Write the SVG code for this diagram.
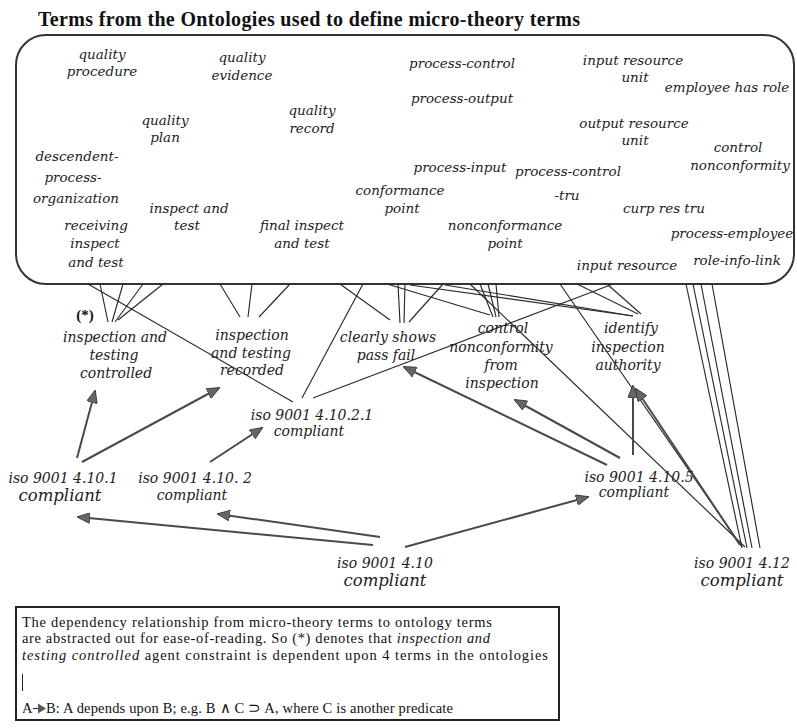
<svg xmlns="http://www.w3.org/2000/svg" width="797" height="728" viewBox="0 0 797 728">
  <style>
    .title { font-family: "Liberation Serif", "Times New Roman", serif; font-weight: bold; font-size: 20px; fill: #111; }
    .term { font-family: "DejaVu Serif", serif; font-style: italic; font-size: 13.5px; fill: #222; text-anchor: middle; }
    .node { font-family: "DejaVu Serif", serif; font-style: italic; font-size: 14px; fill: #222; text-anchor: middle; }
    .big { font-size: 16.5px; }
    .star { font-family: "Liberation Serif", serif; font-weight: bold; font-size: 15px; fill: #111; text-anchor: middle; }
    .legend { font-family: "Liberation Serif", "Times New Roman", serif; font-size: 14.5px; fill: #111; }
    .legend .it { font-style: italic; }
    .frame { fill: #fff; stroke: #333; stroke-width: 2; }
    .dep { stroke: #2a2a2a; stroke-width: 1.15; fill: none; }
    .arr { stroke: #4a4a4a; stroke-width: 2; fill: none; marker-end: url(#head); }
  </style>
  <defs>
    <marker id="head" markerUnits="userSpaceOnUse" markerWidth="13" markerHeight="11" refX="12" refY="5.5" orient="auto">
      <path d="M0,0 L13,5.5 L0,11 z" fill="#666" stroke="#333" stroke-width="0.8"/>
    </marker>
  </defs>

  <rect width="797" height="728" fill="#fff"/>

  <text class="title" x="38" y="26" textLength="542" lengthAdjust="spacing">Terms from the Ontologies used to define micro-theory terms</text>

  <!-- ontology terms -->
  <g id="ontology-box">
    <rect class="frame" x="16" y="35" width="778" height="249" rx="30" ry="30"/>
    <g id="t-quality-procedure"><text class="term" x="102" y="59">quality</text><text class="term" x="102" y="76">procedure</text></g>
    <g id="t-quality-evidence"><text class="term" x="242" y="62">quality</text><text class="term" x="242" y="80">evidence</text></g>
    <g id="t-quality-plan"><text class="term" x="165" y="125">quality</text><text class="term" x="165" y="142">plan</text></g>
    <g id="t-quality-record"><text class="term" x="312" y="115">quality</text><text class="term" x="312" y="133">record</text></g>
    <g id="t-process-control"><text class="term" x="462" y="68">process-control</text></g>
    <g id="t-process-output"><text class="term" x="462" y="103">process-output</text></g>
    <g id="t-input-resource-unit"><text class="term" x="633" y="65">input resource</text><text class="term" x="635" y="82">unit</text></g>
    <g id="t-employee-has-role"><text class="term" x="727" y="92">employee has role</text></g>
    <g id="t-output-resource-unit"><text class="term" x="634" y="128">output resource</text><text class="term" x="635" y="145">unit</text></g>
    <g id="t-control-nonconformity"><text class="term" x="738" y="152">control</text><text class="term" x="740" y="170">nonconformity</text></g>
    <g id="t-descendent-process-organization"><text class="term" x="77" y="161">descendent-</text><text class="term" x="73" y="182">process-</text><text class="term" x="76" y="203">organization</text></g>
    <g id="t-process-input"><text class="term" x="460" y="172">process-input</text></g>
    <g id="t-process-control-tru"><text class="term" x="568" y="176">process-control</text><text class="term" x="567" y="200">-tru</text></g>
    <g id="t-conformance-point"><text class="term" x="400" y="195">conformance</text><text class="term" x="402" y="213">point</text></g>
    <g id="t-curp-res-tru"><text class="term" x="664" y="213">curp res tru</text></g>
    <g id="t-inspect-and-test"><text class="term" x="189" y="213">inspect and</text><text class="term" x="187" y="230">test</text></g>
    <g id="t-final-inspect-and-test"><text class="term" x="302" y="230">final inspect</text><text class="term" x="302" y="248">and test</text></g>
    <g id="t-receiving-inspect-and-test"><text class="term" x="96" y="230">receiving</text><text class="term" x="95" y="248">inspect</text><text class="term" x="96" y="267">and test</text></g>
    <g id="t-nonconformance-point"><text class="term" x="505" y="230">nonconformance</text><text class="term" x="505" y="248">point</text></g>
    <g id="t-process-employee"><text class="term" x="732" y="238">process-employee</text></g>
    <g id="t-role-info-link"><text class="term" x="737" y="265">role-info-link</text></g>
    <g id="t-input-resource"><text class="term" x="627" y="270">input resource</text></g>
  </g>

  <!-- connectors: thin lines run to ontology terms, arrows are dependencies -->
  <g id="connectors">
    <!-- inspection and testing controlled (4 terms) -->
    <line class="dep" x1="100" y1="284" x2="108" y2="322"/>
    <line class="dep" x1="123" y1="284" x2="112" y2="322"/>
    <line class="dep" x1="143" y1="284" x2="115" y2="322"/>
    <line class="dep" x1="163" y1="284" x2="118" y2="320"/>
    <!-- inspection and testing recorded -->
    <line class="dep" x1="220" y1="284" x2="240" y2="317"/>
    <line class="dep" x1="252" y1="284" x2="248" y2="317"/>
    <line class="dep" x1="290" y1="284" x2="259" y2="317"/>
    <!-- clearly shows pass fail -->
    <line class="dep" x1="340" y1="284" x2="390" y2="320"/>
    <line class="dep" x1="398" y1="284" x2="400" y2="323"/>
    <line class="dep" x1="405" y1="284" x2="404" y2="323"/>
    <line class="dep" x1="443" y1="284" x2="409" y2="322"/>
    <!-- control nonconformity from inspection -->
    <line class="dep" x1="387" y1="284" x2="490" y2="315"/>
    <line class="dep" x1="480" y1="284" x2="493" y2="317"/>
    <line class="dep" x1="488" y1="284" x2="496" y2="317"/>
    <line class="dep" x1="496" y1="284" x2="499" y2="317"/>
    <!-- identify inspection authority -->
    <line class="dep" x1="410" y1="285" x2="633" y2="316"/>
    <line class="dep" x1="445" y1="285" x2="633" y2="316"/>
    <line class="dep" x1="577" y1="284" x2="638" y2="314"/>
    <line class="dep" x1="607" y1="284" x2="641" y2="314"/>
    <!-- iso 9001 4.10.2.1 -->
    <line class="dep" x1="88" y1="284" x2="293" y2="402"/>
    <line class="dep" x1="363" y1="284" x2="302" y2="398"/>
    <line class="dep" x1="613" y1="284" x2="313" y2="398"/>
    <!-- iso 9001 4.12 -->
    <line class="dep" x1="560" y1="284" x2="742" y2="547"/>
    <line class="dep" x1="470" y1="284" x2="745" y2="547"/>
    <line class="dep" x1="686" y1="284" x2="742" y2="548"/>
    <line class="dep" x1="693" y1="284" x2="747" y2="548"/>
    <line class="dep" x1="701" y1="284" x2="752" y2="548"/>
    <line class="dep" x1="712" y1="284" x2="760" y2="548"/>

    <!-- dependency arrows -->
    <line class="arr" x1="77" y1="458" x2="95" y2="391"/>
    <line class="arr" x1="82" y1="462" x2="219" y2="388"/>
    <line class="arr" x1="210" y1="462" x2="262" y2="428"/>
    <line class="arr" x1="373" y1="545" x2="78" y2="517"/>
    <line class="arr" x1="380" y1="537" x2="218" y2="514"/>
    <line class="arr" x1="405" y1="547" x2="588" y2="497"/>
    <line class="arr" x1="607" y1="465" x2="404" y2="367"/>
    <line class="arr" x1="620" y1="458" x2="515" y2="400"/>
    <line class="arr" x1="633" y1="455" x2="633" y2="386"/>
    <line class="arr" x1="740" y1="545" x2="636" y2="389"/>
  </g>

  <!-- micro-theory terms -->
  <g id="n-inspection-testing-controlled">
    <text class="star" x="85" y="320">(*)</text>
    <text class="node" x="115" y="342">inspection and</text>
    <text class="node" x="114" y="360">testing</text>
    <text class="node" x="116" y="378">controlled</text>
  </g>
  <g id="n-inspection-testing-recorded">
    <text class="node" x="252" y="340">inspection</text>
    <text class="node" x="251" y="358">and testing</text>
    <text class="node" x="252" y="375">recorded</text>
  </g>
  <g id="n-clearly-shows-pass-fail">
    <text class="node" x="388" y="342">clearly shows</text>
    <text class="node" x="386" y="360">pass fail</text>
  </g>
  <g id="n-control-nonconformity">
    <text class="node" x="503" y="333">control</text>
    <text class="node" x="501" y="352">nonconformity</text>
    <text class="node" x="501" y="370">from</text>
    <text class="node" x="502" y="388">inspection</text>
  </g>
  <g id="n-identify-inspection-authority">
    <text class="node" x="631" y="333">identify</text>
    <text class="node" x="628" y="352">inspection</text>
    <text class="node" x="628" y="370">authority</text>
  </g>
  <g id="n-iso-4-10-2-1">
    <text class="node" x="312" y="420">iso 9001 4.10.2.1</text>
    <text class="node" x="309" y="436">compliant</text>
  </g>
  <g id="n-iso-4-10-1">
    <text class="node" x="63" y="483">iso 9001 4.10.1</text>
    <text class="node big" x="60" y="501">compliant</text>
  </g>
  <g id="n-iso-4-10-2">
    <text class="node" x="195" y="483">iso 9001 4.10. 2</text>
    <text class="node" x="192" y="500">compliant</text>
  </g>
  <g id="n-iso-4-10-5">
    <text class="node" x="639" y="482">iso 9001 4.10.5</text>
    <text class="node" x="634" y="497">compliant</text>
  </g>
  <g id="n-iso-4-10">
    <text class="node" x="385" y="568">iso 9001 4.10</text>
    <text class="node big" x="385" y="586">compliant</text>
  </g>
  <g id="n-iso-4-12">
    <text class="node" x="742" y="568">iso 9001 4.12</text>
    <text class="node big" x="742" y="586">compliant</text>
  </g>

  <!-- legend -->
  <g id="legend">
    <rect x="16" y="607" width="543" height="113" fill="#fff" stroke="#222" stroke-width="2"/>
    <text class="legend" x="22" y="627" textLength="470" lengthAdjust="spacing">The dependency relationship from micro-theory terms to ontology terms</text>
    <text class="legend" x="22" y="643" textLength="468" lengthAdjust="spacing">are abstracted out for ease-of-reading. So (*) denotes that <tspan class="it">inspection and</tspan></text>
    <text class="legend" x="22" y="660" textLength="526" lengthAdjust="spacing"><tspan class="it">testing controlled</tspan> agent constraint is dependent upon 4 terms in the ontologies</text>
    <line x1="22.5" y1="674" x2="22.5" y2="691" stroke="#222" stroke-width="1"/>
    <text class="legend" x="22" y="713">A</text>
    <line x1="33" y1="708.5" x2="40" y2="708.5" stroke="#333" stroke-width="1.2"/>
    <path d="M38,703.5 L46,708.5 L38,713.5 z" fill="#555"/>
    <text class="legend" x="46" y="713" textLength="407" lengthAdjust="spacing">B: A depends upon B; e.g. B ∧ C ⊃ A, where C is another predicate</text>
  </g>
</svg>
